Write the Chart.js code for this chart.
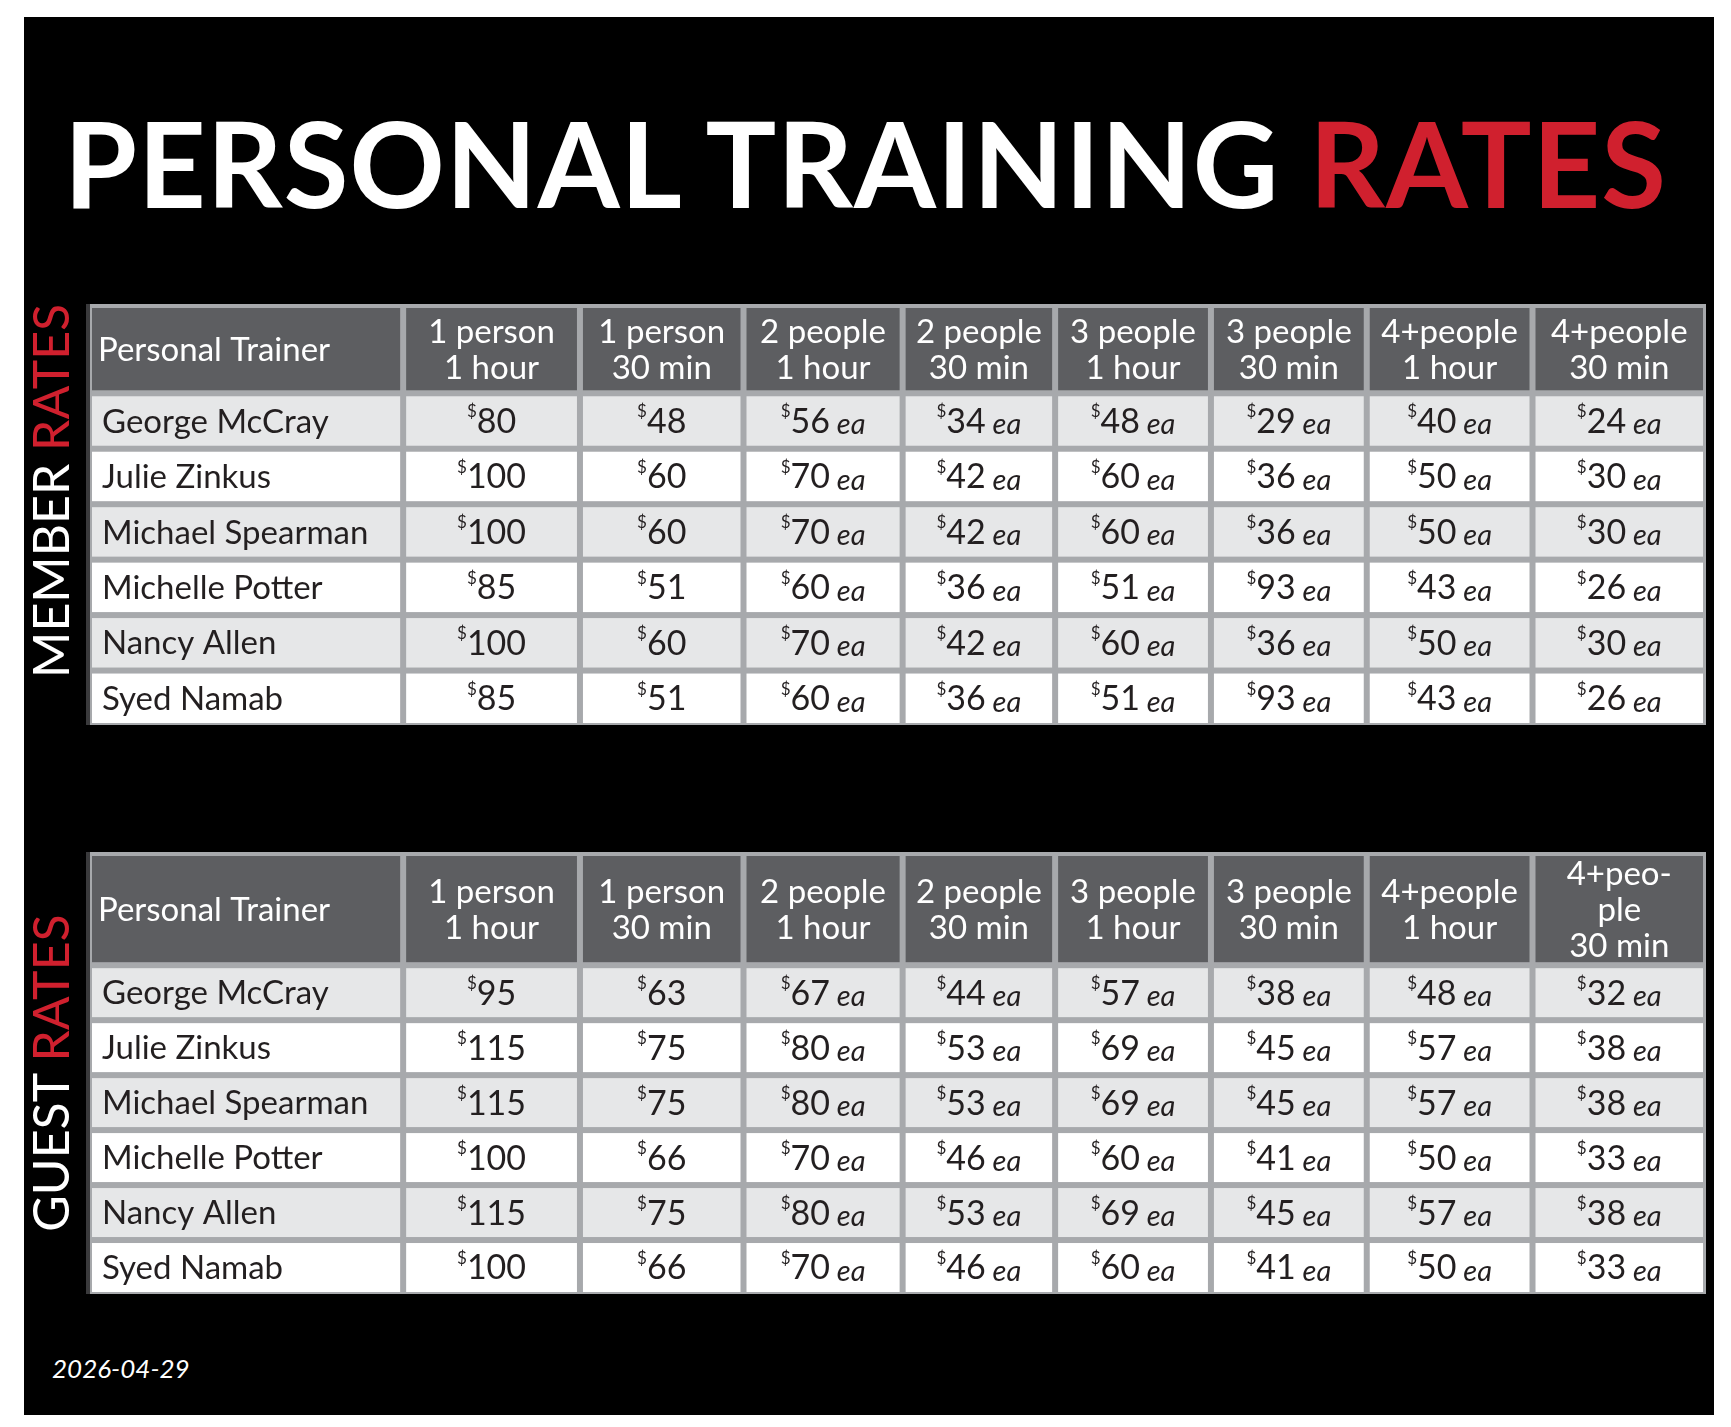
<!DOCTYPE html>
<html><head><meta charset="utf-8">
<script src="https://cdn.jsdelivr.net/npm/chart.js@4/dist/chart.umd.min.js"></script>
<style>
html,body{margin:0;background:#fff;width:1731px;height:1427px;overflow:hidden;font-family:Lato,"Open Sans",sans-serif}
#frame{position:absolute;left:24px;top:17px;width:1690px;height:1398px;background:#000}
#title{position:absolute;left:0;top:92px;width:1731px;text-align:center;color:#fff;font:bold 118px "Liberation Sans Narrow",Lato,sans-serif;letter-spacing:1px}
#title span{color:#d0202e}
.side{position:absolute;color:#fff;font:50px Lato,sans-serif;transform:rotate(-90deg);white-space:nowrap;transform-origin:center}
.side span{color:#d0202e}
.tbl{position:absolute;left:86px}
#date{position:absolute;left:52px;top:1352px;color:#fff;font:italic 26px Lato,sans-serif}
</style></head><body>
<div id="frame"></div>
<div id="title">PERSONAL TRAINING <span>RATES</span></div>
<div class="side" style="left:-110px;top:488px;width:320px;text-align:center">MEMBER <span>RATES</span></div>
<div class="side" style="left:-110px;top:1043px;width:320px;text-align:center">GUEST <span>RATES</span></div>
<div class="tbl" style="top:304px"><canvas id="member" width="1620" height="421"></canvas></div>
<div class="tbl" style="top:852px"><canvas id="guest" width="1620" height="442"></canvas></div>
<div id="date">2026-04-29</div>
<script>
const trainers = ["George McCray", "Julie Zinkus", "Michael Spearman", "Michelle Potter", "Nancy Allen", "Syed Namab"];
const memberHeaders = ["Personal Trainer", "1 person\n1 hour", "1 person\n30 min", "2 people\n1 hour", "2 people\n30 min", "3 people\n1 hour", "3 people\n30 min", "4+people\n1 hour", "4+people\n30 min"];
const guestHeaders = ["Personal Trainer", "1 person\n1 hour", "1 person\n30 min", "2 people\n1 hour", "2 people\n30 min", "3 people\n1 hour", "3 people\n30 min", "4+people\n1 hour", "4+peo-\nple\n30 min"];
const memberRates = [
  [80, 48, 56, 34, 48, 29, 40, 24],
  [100, 60, 70, 42, 60, 36, 50, 30],
  [100, 60, 70, 42, 60, 36, 50, 30],
  [85, 51, 60, 36, 51, 93, 43, 26],
  [100, 60, 70, 42, 60, 36, 50, 30],
  [85, 51, 60, 36, 51, 93, 43, 26]
];
const guestRates = [
  [95, 63, 67, 44, 57, 38, 48, 32],
  [115, 75, 80, 53, 69, 45, 57, 38],
  [115, 75, 80, 53, 69, 45, 57, 38],
  [100, 66, 70, 46, 60, 41, 50, 33],
  [115, 75, 80, 53, 69, 45, 57, 38],
  [100, 66, 70, 46, 60, 41, 50, 33]
];

// layout weights (not data)
const colW = [287, 160, 148, 144, 138, 141, 141, 150, 157];
const rowH = 49;

const tablePlugin = {
  id: 'table',
  afterDraw(chart) {
    const o = chart.options.plugins.table;
    const {ctx, scales: {x, y}} = chart;
    const rows = [o.headers].concat(o.names.map((n, i) => [n].concat(o.rates[i])));
    const heights = [o.headH].concat(o.names.map(() => rowH));
    ctx.save();
    ctx.fillStyle = '#a7a9ac';
    ctx.fillRect(x.left, y.top, x.right - x.left, y.bottom - y.top);
    ctx.fillStyle = '#3a3a3c';
    ctx.fillRect(x.left, y.top, 4, y.bottom - y.top);
    let yv = 0;
    rows.forEach((row, r) => {
      let xv = 0;
      const y0 = y.getPixelForValue(yv), y1 = y.getPixelForValue(yv + heights[r]);
      row.forEach((cell, c) => {
        const x0 = x.getPixelForValue(xv), x1 = x.getPixelForValue(xv + colW[c]);
        const cx0 = x0 + (c === 0 ? 6 : 3), cx1 = x1 - 3, cy0 = y0 + 4, cy1 = y1 - 2;
        ctx.fillStyle = r === 0 ? '#5d5e61' : (r % 2 ? '#e6e7e8' : '#ffffff');
        ctx.fillRect(cx0, cy0, cx1 - cx0, cy1 - cy0);
        const cy = (cy0 + cy1) / 2 + 1;
        ctx.textBaseline = 'middle';
        if (r === 0) {
          ctx.fillStyle = '#fff';
          ctx.font = '33px Lato, sans-serif';
          const lines = String(cell).split('\n');
          const lh = 36;
          lines.forEach((ln, i) => {
            const ly = cy + (i - (lines.length - 1) / 2) * lh;
            if (c === 0) { ctx.textAlign = 'left'; ctx.fillText(ln, cx0 + 6, ly); }
            else { ctx.textAlign = 'center'; ctx.fillText(ln, (cx0 + cx1) / 2, ly); }
          });
        } else if (c === 0) {
          ctx.fillStyle = '#231f20';
          ctx.font = '33px "Liberation Sans Narrow", Lato, sans-serif';
          ctx.textAlign = 'left';
          ctx.fillText(cell, cx0 + 10, cy);
        } else {
          ctx.fillStyle = '#231f20';
          const sup = '$', num = String(cell), ea = c > 2 ? ' ea' : '';
          ctx.font = '17px Lato, sans-serif'; const ws = ctx.measureText(sup).width;
          ctx.font = '34px "Liberation Sans Narrow", Lato, sans-serif'; const wn = ctx.measureText(num).width;
          ctx.font = 'italic 29px Lato, sans-serif'; const we = ctx.measureText(ea).width;
          let sx = (cx0 + cx1) / 2 - (ws + wn + we) / 2;
          ctx.textAlign = 'left';
          ctx.font = '17px Lato, sans-serif'; ctx.fillText(sup, sx, cy - 10); sx += ws;
          ctx.font = '34px "Liberation Sans Narrow", Lato, sans-serif'; ctx.fillText(num, sx, cy); sx += wn;
          ctx.font = 'italic 29px Lato, sans-serif'; ctx.fillText(ea, sx, cy + 3);
        }
        xv += colW[c];
      });
      yv += heights[r];
    });
    ctx.restore();
  }
};

function makeTable(id, headers, rates, headH) {
  const totalW = colW.reduce((a, b) => a + b, 0);
  const totalH = headH + rowH * trainers.length;
  new Chart(document.getElementById(id), {
    type: 'scatter',
    data: {datasets: [{data: []}]},
    options: {
      responsive: false, animation: false, devicePixelRatio: 1,
      layout: {padding: 0},
      scales: {
        x: {type: 'linear', min: 0, max: totalW, display: false},
        y: {type: 'linear', min: 0, max: totalH, reverse: true, display: false}
      },
      plugins: {legend: {display: false}, tooltip: {enabled: false},
        table: {headers: headers, names: trainers, rates: rates, headH: headH}}
    },
    plugins: [tablePlugin]
  });
}
makeTable('member', memberHeaders, memberRates, 78);
makeTable('guest', guestHeaders, guestRates, 100);
</script>
</body></html>
